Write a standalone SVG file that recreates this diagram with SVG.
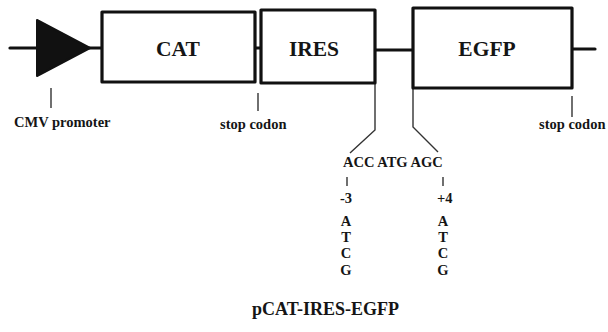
<svg xmlns="http://www.w3.org/2000/svg" width="608" height="332" viewBox="0 0 608 332">
<style>
.box{fill:#fff;stroke:#111;stroke-width:3.2;stroke-linejoin:round}
.bb{stroke:#111;stroke-width:3.2;fill:none;stroke-linecap:round}
.thin{stroke:#333;stroke-width:1.4;fill:none}
text{font-family:"Liberation Serif","Times New Roman",serif;font-weight:bold;fill:#151515}
.lab{font-size:21.5px;text-anchor:middle}
.sm{font-size:14.5px}
.mid{text-anchor:middle}
</style>
<rect width="608" height="332" fill="#fff"/>
<g id="connectors">
<line class="bb" x1="10" y1="48" x2="38" y2="48"/>
<line class="bb" x1="89" y1="48" x2="102" y2="48"/>
<line class="bb" x1="255" y1="48" x2="261" y2="48"/>
<line class="bb" x1="375" y1="50" x2="413" y2="50"/>
<line class="bb" x1="572" y1="49" x2="595" y2="49"/>
<polyline class="thin" points="375,83 375,130 350,153"/>
<polyline class="thin" points="413,88 413,127 438,152"/>
<line class="thin" x1="51" y1="88" x2="51" y2="108"/>
<line class="thin" x1="258" y1="93" x2="258" y2="111"/>
<line class="thin" x1="572" y1="96" x2="572" y2="117"/>
<line class="thin" x1="347" y1="177" x2="347" y2="186"/>
<line class="thin" x1="443" y1="177" x2="443" y2="186"/>
</g>
<g id="cmv">
<polygon points="37,20 37,76 90,48" fill="#111" stroke="#111" stroke-width="2" stroke-linejoin="round"/>
<text class="sm" x="14" y="127">CMV promoter</text>
</g>
<g id="cat">
<rect class="box" x="102" y="12" width="153" height="70"/>
<text class="lab" x="178" y="56">CAT</text>
</g>
<g id="ires">
<rect class="box" x="261" y="10" width="114" height="73"/>
<text class="lab" x="314" y="56">IRES</text>
</g>
<g id="egfp">
<rect class="box" x="413" y="8" width="159" height="80"/>
<text class="lab" x="487" y="56">EGFP</text>
</g>
<g id="stop1"><text class="sm" x="220" y="129">stop codon</text></g>
<g id="stop2"><text class="sm" x="539" y="129">stop codon</text></g>
<g id="seq">
<text class="sm" x="343" y="167">ACC ATG AGC</text>
<text class="sm" x="340" y="203">-3</text>
<text class="sm" x="437" y="203">+4</text>
<text class="sm mid" x="346" y="226">A</text>
<text class="sm mid" x="346" y="242">T</text>
<text class="sm mid" x="346" y="258">C</text>
<text class="sm mid" x="346" y="275">G</text>
<text class="sm mid" x="443" y="226">A</text>
<text class="sm mid" x="443" y="242">T</text>
<text class="sm mid" x="443" y="258">C</text>
<text class="sm mid" x="443" y="275">G</text>
</g>
<g id="title"><text x="252" y="315" style="font-size:18px">pCAT-IRES-EGFP</text></g>
</svg>
